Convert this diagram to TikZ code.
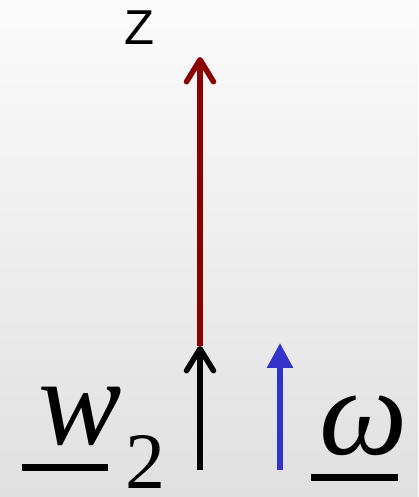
\documentclass[tikz,border=0pt]{standalone}
\usepackage{fontspec}
\setmainfont{Liberation Serif}
\newfontfamily\labelsans{Liberation Sans}
\usetikzlibrary{arrows.meta}
\definecolor{zred}{HTML}{8B0000}
\definecolor{wblue}{HTML}{3333CC}
\definecolor{bgtop}{HTML}{FBFBFB}
\definecolor{bgbot}{HTML}{E0E0E0}
\begin{document}
\begin{tikzpicture}[x=1pt,y=1pt,
  vec/.style={line width=5.5pt},
  barb/.style={-{Straight Barb[length=22pt,width=27pt,line cap=round,line join=round]}},
  tri/.style={-{Triangle[length=25pt,width=25pt]}},
  big/.style={inner sep=0pt,anchor=base,font=\fontsize{125}{125}\selectfont\itshape},
  ul/.style={line width=7pt}]
\shade[top color=bgtop,bottom color=bgbot] (0,0) rectangle (418,497);
\useasboundingbox (0,0) rectangle (418,497);
\coordinate (b0) at (200,27);
\coordinate (b1) at (200,151);
\coordinate (r1) at (200,440);
\coordinate (u0) at (280,27);
\coordinate (u1) at (280,154);
\draw[vec,zred,barb] (b1) -- (r1);
\draw[vec,black,barb] (b0) -- (b1);
\draw[vec,wblue,tri] (u0) -- (u1);
\node[inner sep=0pt,anchor=base,font=\fontsize{49}{49}\selectfont\labelsans] (z) at (139,452) {Z};
\node[big] (w) at (80,52) {w};
\node[inner sep=0pt,anchor=base,font=\fontsize{80}{80}\selectfont] (two) at (145,9) {2};
\node[big] (om) at (364,42) {ω};
\draw[ul] (22,29) -- (108,29);
\draw[ul] (311,19) -- (398,19);
\end{tikzpicture}
\end{document}
